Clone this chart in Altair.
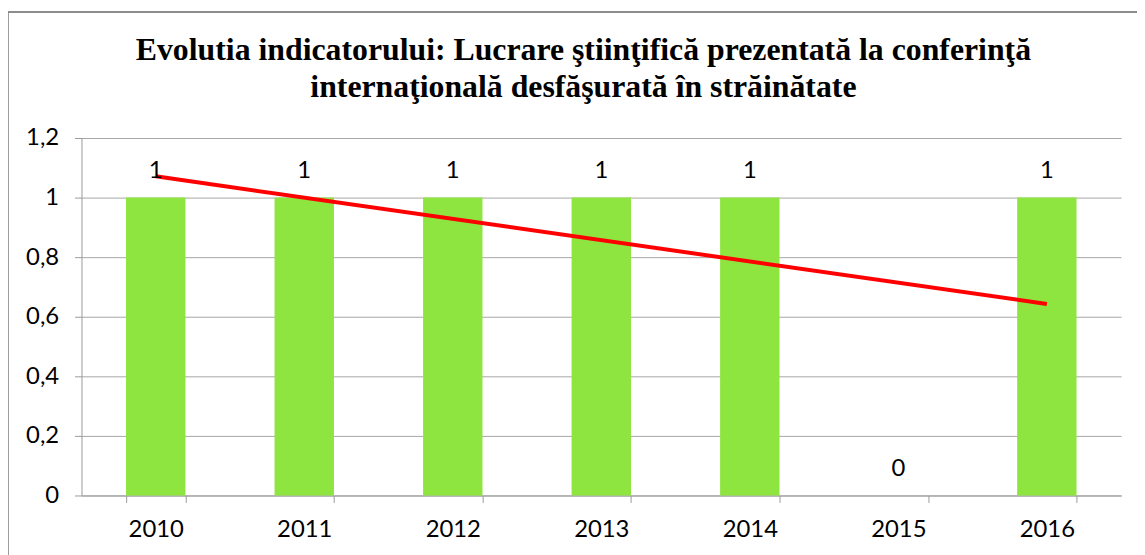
import altair as alt
import pandas as pd

years = [2010, 2011, 2012, 2013, 2014, 2015, 2016]
values = [1, 1, 1, 1, 1, 0, 1]
title_lines = [
    "Evolutia indicatorului: Lucrare ştiinţifică prezentată la conferinţă",
    "internaţională desfăşurată în străinătate",
]

df = pd.DataFrame({"year": years, "value": values})

W, H = 1047, 360
LEFT, TOP = 74, 129

base = alt.Chart(df)

x_enc = alt.X(
    "year:O",
    title=None,
    scale=alt.Scale(paddingInner=0.6, paddingOuter=0.3),
    axis=alt.Axis(
        labelAngle=0,
        labelFont="Lato",
        labelFontSize=24,
        labelColor="#000000",
        labelPadding=15,
        tickBand="extent",
        tickSize=7,
        tickColor="#9a9a9a",
        domainColor="#9a9a9a",
        grid=False,
    ),
)

bars = base.mark_bar(color="#8ee53f").encode(
    x=x_enc,
    y=alt.Y(
        "value:Q",
        title=None,
        scale=alt.Scale(domain=[0, 1.2]),
        axis=alt.Axis(
            values=[0, 0.2, 0.4, 0.6, 0.8, 1, 1.2],
            labelExpr="replace(format(datum.value, '~g'), '.', ',')",
            labelFont="Lato",
            labelFontSize=24,
            labelColor="#000000",
            labelPadding=16,
            tickSize=7,
            tickColor="#9a9a9a",
            domainColor="#9a9a9a",
            gridColor="#a6a6a6",
            gridWidth=1,
        ),
    ),
)

labels = base.mark_text(
    font="Lato", fontSize=24, color="#000000", baseline="middle", dy=-27
).encode(x=alt.X("year:O"), y=alt.Y("value:Q"), text=alt.Text("value:Q"))

trend = base.transform_regression("year", "value").mark_line(
    color="#ff0000", strokeWidth=4
).encode(x=alt.X("year:O"), y=alt.Y("value:Q"))

border = base.mark_rect(
    fill=None, stroke="#8c8c8c", strokeWidth=1.5, clip=False
).encode(
    x=alt.value(-74.5),
    x2=alt.value(1100),
    y=alt.value(-127),
    y2=alt.value(600),
)

chart = (
    alt.layer(border, bars, trend, labels)
    .properties(
        width=W,
        height=H,
        autosize=alt.AutoSizeParams(type="none"),
        padding={"left": LEFT, "top": TOP, "right": 16, "bottom": 58},
        title=alt.TitleParams(
            text=title_lines,
            font="Liberation Serif",
            fontSize=32,
            fontWeight="bold",
            color="#000000",
            anchor="middle",
            dx=-18,
            lineHeight=37,
            offset=-93,
        ),
    )
    .configure_view(stroke=None)
)

chart.save("out.html", embed_options={"renderer": "svg", "actions": False})
